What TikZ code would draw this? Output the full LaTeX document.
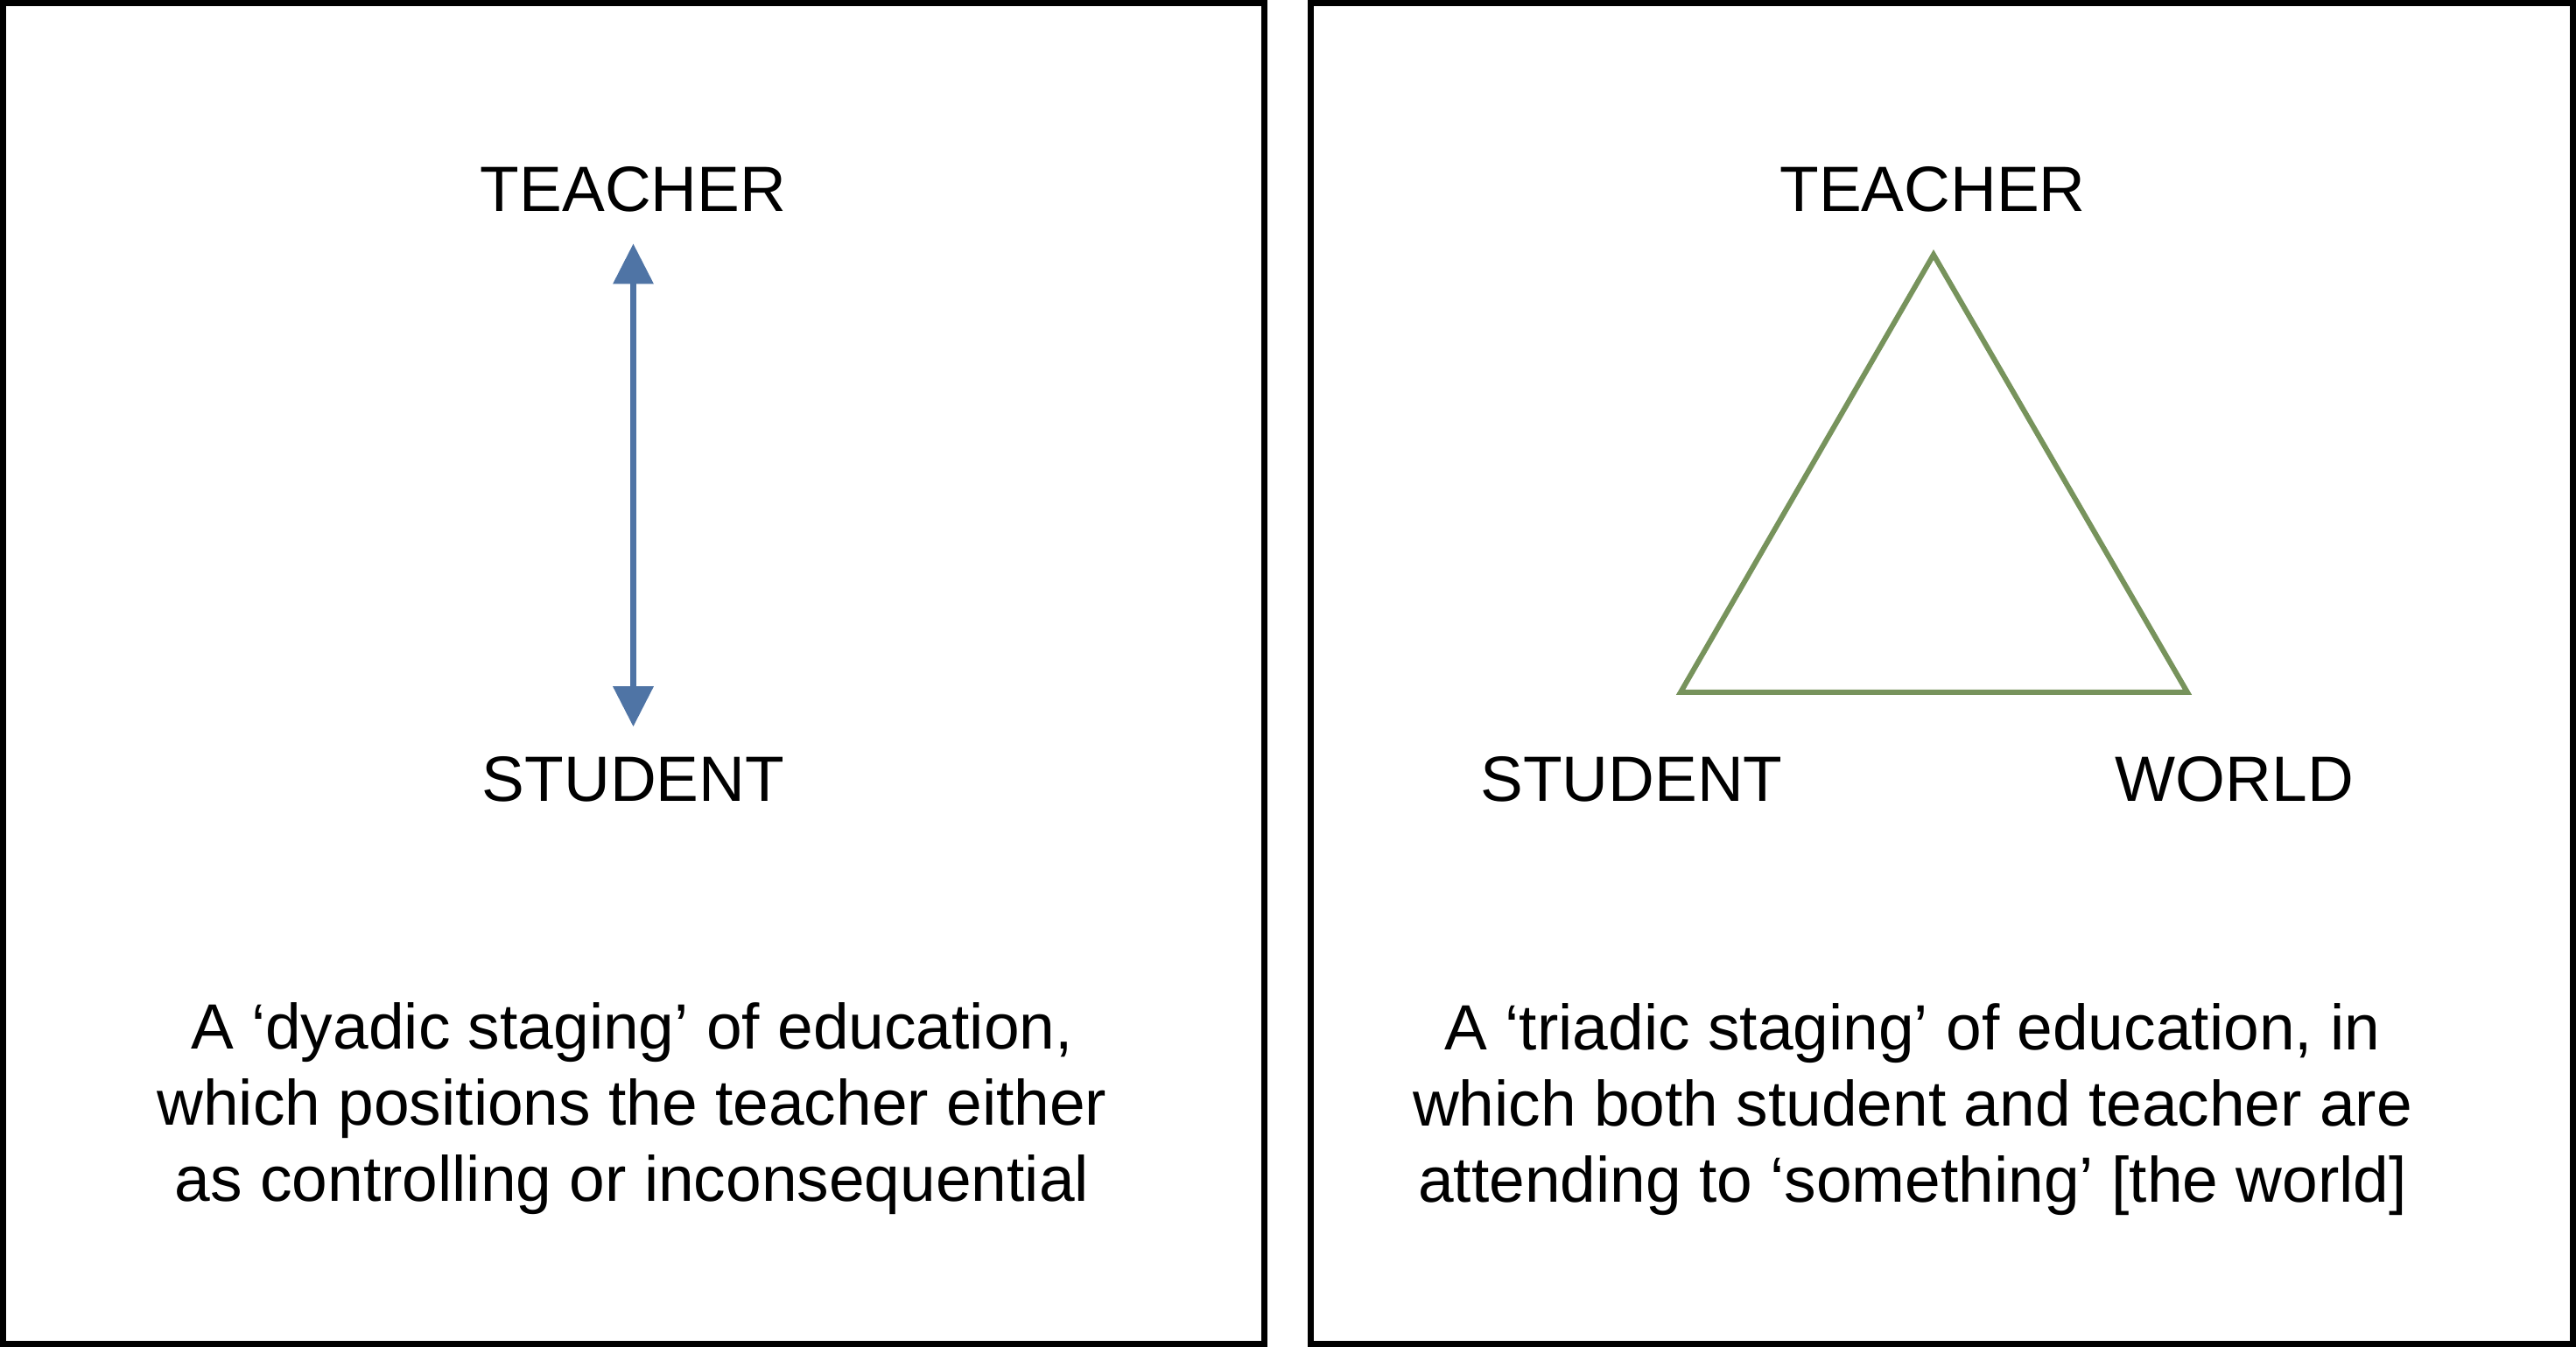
\documentclass[tikz,border=0pt]{standalone}
\usepackage{fontspec}
\setmainfont{Liberation Sans}
\usepackage{xcolor}
\definecolor{dyadblue}{RGB}{79,116,165}
\definecolor{triadgreen}{RGB}{119,147,92}
\usetikzlibrary{arrows.meta}

\begin{document}
\begin{tikzpicture}[every node/.style={inner sep=0pt,font=\fontsize{20.8}{24.75}\selectfont},
   role/.style={anchor=base},
   caption/.style={anchor=north,align=center}]
   \useasboundingbox (0,0) rectangle (29.43,15.39);
   % dyadic panel
   \draw[line width=0.07cm] (0.035,0.035) rectangle (14.445,15.355);
   \node[role] (teacherL) at (7.235,12.97) {TEACHER};
   \node[role] (studentL) at (7.235,6.23) {STUDENT};
   \draw[{Triangle[length=0.46cm,width=0.45cm]}-{Triangle[length=0.46cm,width=0.45cm]},
      line width=0.067cm,color=dyadblue,shorten <=0.35cm,shorten >=0.34cm]
      (teacherL.south) -- (studentL.north);
   \node[caption] (captionL) at (7.22,3.94) {A ‘dyadic staging’ of education,\\
      which positions the teacher either\\as controlling or inconsequential};
   % triadic panel
   \draw[line width=0.07cm] (14.975,0.035) rectangle (29.395,15.355);
   \node[role] (teacherR) at (22.08,12.97) {TEACHER};
   \node[role] (studentR) at (18.64,6.23) {STUDENT};
   \node[role] (worldR) at (25.53,6.23) {WORLD};
   \coordinate (apex) at (22.09,12.48);
   \coordinate (cornerS) at (19.20,7.48);
   \coordinate (cornerW) at (24.99,7.48);
   \draw[line width=0.06cm,color=triadgreen] (apex) -- (cornerW) -- (cornerS) -- cycle;
   \node[caption] (captionR) at (21.85,3.93) {A ‘triadic staging’ of education, in\\
      which both student and teacher are\\attending to ‘something’ [the world]};
\end{tikzpicture}
\end{document}
